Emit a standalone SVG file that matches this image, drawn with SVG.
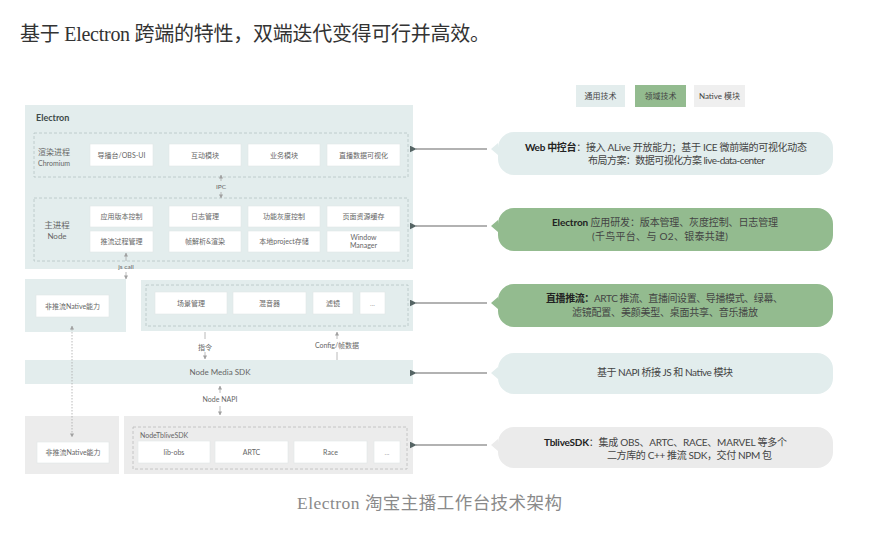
<svg xmlns="http://www.w3.org/2000/svg" width="870" height="554" viewBox="0 0 870 554">
<defs>
<style>
.t{font-family:"Lato","Noto Sans CJK SC",sans-serif;fill:#666}
.s7{font-size:7px}
.s8{font-size:8px}
.m{text-anchor:middle}
.ct{font-family:"Lato","Noto Sans CJK SC",sans-serif;font-size:10px;fill:#444}
.b{font-weight:bold;fill:#222}
.teal{fill:#e3eded}
.grey{fill:#ececec}
.green{fill:#93bb8f}
.dash{fill:none;stroke:#b5c4c4;stroke-width:0.8;stroke-dasharray:3 2}
.box{fill:#fff;stroke:#e2e6e6;stroke-width:0.6}
.conn{stroke:#666;stroke-width:1.2;fill:none}
.small{stroke:#a8a8a8;stroke-width:0.8;fill:none}
</style>
<marker id="ah" viewBox="0 0 10 10" refX="1" refY="5" markerWidth="7" markerHeight="7" orient="auto-start-reverse" markerUnits="userSpaceOnUse">
<path d="M10,0 L0,5 L10,10 Z" fill="#556464"/>
</marker>
<marker id="sa" viewBox="0 0 10 10" refX="9" refY="5" markerWidth="4" markerHeight="4" orient="auto-start-reverse" markerUnits="userSpaceOnUse">
<path d="M0,0 L10,5 L0,10 Z" fill="#a0a0a0"/>
</marker>
</defs>
<rect width="870" height="554" fill="#fff"/>
<text x="20" y="41" textLength="470" lengthAdjust="spacing" style="font-family:'Liberation Serif','Noto Sans CJK SC',serif;font-size:20px;fill:#333">基于 Electron 跨端的特性，双端迭代变得可行并高效。</text>
<text x="297" y="509" textLength="265" lengthAdjust="spacing" style="font-family:'Liberation Serif','Noto Sans CJK SC',serif;font-size:17.5px;fill:#8a8a8a">Electron 淘宝主播工作台技术架构</text>

<g id="legend">
<rect x="576" y="85" width="49" height="22" class="teal"/>
<text x="600.5" y="99" class="t s8 m" style="fill:#444">通用技术</text>
<rect x="635" y="85" width="51" height="22" class="green"/>
<text x="660.5" y="99" class="t s8 m" style="fill:#444">领域技术</text>
<rect x="694" y="85" width="51" height="22" fill="#efefef"/>
<text x="719.5" y="99" class="t s8 m" style="fill:#444">Native 模块</text>
</g>

<g id="electron">
<rect x="25" y="105" width="388" height="164" class="teal"/>
<text x="36" y="121" class="t" style="font-size:9px;font-weight:bold;fill:#3d4a4a">Electron</text>
</g>

<g id="renderer">
<rect x="34" y="133" width="374" height="44" class="dash"/>
<text x="38" y="155" class="t s8">渲染进程</text>
<text x="38" y="166" class="t s7">Chromium</text>
<rect x="90" y="144" width="63" height="22" class="box"/><text x="121.5" y="157.5" class="t s7 m">导播台/OBS-UI</text>
<rect x="169" y="144" width="72" height="22" class="box"/><text x="205" y="157.5" class="t s7 m">互动模块</text>
<rect x="248" y="144" width="72" height="22" class="box"/><text x="284" y="157.5" class="t s7 m">业务模块</text>
<rect x="327" y="144" width="73" height="22" class="box"/><text x="363.5" y="157.5" class="t s7 m">直播数据可视化</text>
</g>

<g id="main-process">
<rect x="34" y="198" width="374" height="63" class="dash"/>
<text x="57" y="228" class="t m" style="font-size:8.5px">主进程</text>
<text x="57" y="239" class="t s8 m">Node</text>
<rect x="90" y="206" width="63" height="21" class="box"/><text x="121.5" y="219" class="t s7 m">应用版本控制</text>
<rect x="169" y="206" width="72" height="21" class="box"/><text x="205" y="219" class="t s7 m">日志管理</text>
<rect x="248" y="206" width="72" height="21" class="box"/><text x="284" y="219" class="t s7 m">功能灰度控制</text>
<rect x="327" y="206" width="73" height="21" class="box"/><text x="363.5" y="219" class="t s7 m">页面资源缓存</text>
<rect x="90" y="231" width="63" height="21" class="box"/><text x="121.5" y="244" class="t s7 m">推流过程管理</text>
<rect x="169" y="231" width="72" height="21" class="box"/><text x="205" y="244" class="t s7 m">帧解析&amp;渲染</text>
<rect x="248" y="231" width="72" height="21" class="box"/><text x="284" y="244" class="t s7 m">本地project存储</text>
<rect x="327" y="231" width="73" height="21" class="box"/><text x="363.5" y="240" class="t s7 m">Window</text><text x="363.5" y="248" class="t s7 m">Manager</text>
</g>

<g id="native-top">
<rect x="25" y="279" width="101" height="53" class="teal"/>
<rect x="36" y="295" width="73" height="22" class="box"/><text x="72.5" y="308.5" class="t s7 m">非推流Native能力</text>
</g>

<g id="streaming">
<rect x="141" y="280" width="272" height="51" class="teal"/>
<rect x="146" y="285" width="262" height="41" class="dash"/>
<rect x="155" y="292" width="72" height="22" class="box"/><text x="191" y="305.5" class="t s7 m">场景管理</text>
<rect x="233" y="292" width="73" height="22" class="box"/><text x="269.5" y="305.5" class="t s7 m">混音器</text>
<rect x="313" y="292" width="40" height="22" class="box"/><text x="333" y="305.5" class="t s7 m">滤镜</text>
<rect x="360" y="292" width="25" height="22" class="box"/><text x="372.5" y="305.5" class="t s7 m" style="fill:#aaa">...</text>
</g>

<g id="node-media-sdk">
<rect x="25" y="360" width="388" height="24" class="teal"/>
<text x="220" y="375" class="t s8 m">Node Media SDK</text>
</g>

<g id="native-bottom">
<rect x="25" y="416" width="94" height="58" class="grey"/>
<rect x="37" y="442" width="72" height="21" class="box"/><text x="73" y="455" class="t s7 m">非推流Native能力</text>
</g>

<g id="tblive-sdk">
<rect x="124" y="416" width="289" height="58" class="grey"/>
<rect x="133" y="427" width="274" height="42" class="dash" style="stroke:#bcbcbc"/>
<text x="140" y="438" class="t s7">NodeTbliveSDK</text>
<rect x="138" y="441" width="72" height="22" class="box"/><text x="174" y="454.5" class="t s7 m">lib-obs</text>
<rect x="215" y="441" width="73" height="22" class="box"/><text x="251.5" y="454.5" class="t s7 m">ARTC</text>
<rect x="294" y="441" width="73" height="22" class="box"/><text x="330.5" y="454.5" class="t s7 m">Race</text>
<rect x="374" y="441" width="26" height="22" class="box"/><text x="387" y="454.5" class="t s7 m" style="fill:#aaa">...</text>
</g>

<g id="callout-web">
<path d="M514,132 H817 A16,16 0 0 1 833,148 V159 A16,16 0 0 1 817,175 H514 A16,16 0 0 1 498,159 V155 L491,149 L498,143 V148 A16,16 0 0 1 514,132 Z" fill="#e2eded"/>
<text x="525" y="151" class="ct" textLength="282" lengthAdjust="spacing"><tspan class="b">Web 中控台</tspan>：接入 ALive 开放能力；基于 ICE 微前端的可视化动态</text>
<text x="588" y="164" class="ct" textLength="177" lengthAdjust="spacing">布局方案：数据可视化方案 live-data-center</text>
</g>

<g id="callout-electron">
<path d="M514,208 H817 A16,16 0 0 1 833,224 V235 A16,16 0 0 1 817,251 H514 A16,16 0 0 1 498,235 V232 L491,226 L498,220 V224 A16,16 0 0 1 514,208 Z" class="green"/>
<text x="552" y="226" class="ct" textLength="226" lengthAdjust="spacing"><tspan class="b">Electron</tspan> 应用研发：版本管理、灰度控制、日志管理</text>
<text x="592" y="240" class="ct" textLength="136" lengthAdjust="spacing">(千鸟平台、与 O2、银泰共建)</text>
</g>

<g id="callout-streaming">
<path d="M514,284 H817 A16,16 0 0 1 833,300 V311 A16,16 0 0 1 817,327 H514 A16,16 0 0 1 498,311 V309 L491,303 L498,297 V300 A16,16 0 0 1 514,284 Z" class="green"/>
<text x="546" y="302" class="ct" textLength="237" lengthAdjust="spacing"><tspan class="b">直播推流：</tspan>ARTC 推流、直播间设置、导播模式、绿幕、</text>
<text x="572" y="316" class="ct" textLength="186" lengthAdjust="spacing">滤镜配置、美颜美型、桌面共享、音乐播放</text>
</g>

<g id="callout-napi">
<path d="M514,353 H817 A16,16 0 0 1 833,369 V378 A16,16 0 0 1 817,394 H514 A16,16 0 0 1 498,378 V379 L491,373 L498,367 V369 A16,16 0 0 1 514,353 Z" fill="#e2eded"/>
<text x="597" y="376" class="ct" textLength="136" lengthAdjust="spacing">基于 NAPI 桥接 JS 和 Native 模块</text>
</g>

<g id="callout-tblive">
<path d="M514,427 H817 A16,16 0 0 1 833,443 V452 A16,16 0 0 1 817,468 H514 A16,16 0 0 1 498,452 V451 L491,445 L498,439 V443 A16,16 0 0 1 514,427 Z" fill="#ebebeb"/>
<text x="544" y="446" class="ct" textLength="243" lengthAdjust="spacing"><tspan class="b">TbliveSDK</tspan>：集成 OBS、ARTC、RACE、MARVEL 等多个</text>
<text x="607" y="459" class="ct" textLength="165" lengthAdjust="spacing">二方库的 C++ 推流 SDK，交付 NPM 包</text>
</g>

<g id="connectors">
<line x1="487" y1="149" x2="416" y2="149" class="conn" marker-end="url(#ah)"/>
<line x1="487" y1="226" x2="416" y2="226" class="conn" marker-end="url(#ah)"/>
<line x1="487" y1="303" x2="416" y2="303" class="conn" marker-end="url(#ah)"/>
<line x1="487" y1="373" x2="416" y2="373" class="conn" marker-end="url(#ah)"/>
<line x1="487" y1="445" x2="416" y2="445" class="conn" marker-end="url(#ah)"/>
<line x1="221" y1="181" x2="221" y2="175" class="small" marker-end="url(#sa)"/>
<text x="221" y="189" class="t m" style="font-size:6.5px">IPC</text>
<line x1="221" y1="192" x2="221" y2="198" class="small" marker-end="url(#sa)"/>
<line x1="126" y1="261" x2="126" y2="253" class="small" marker-end="url(#sa)"/>
<text x="126" y="269" class="t m" style="font-size:6.5px">js call</text>
<line x1="126" y1="272" x2="126" y2="279" class="small" marker-end="url(#sa)"/>
<line x1="205" y1="332" x2="205" y2="339" class="small"/>
<text x="205" y="350" class="t m" style="font-size:7px">指令</text>
<line x1="205" y1="352" x2="205" y2="359" class="small" marker-end="url(#sa)"/>
<line x1="337" y1="339" x2="337" y2="332" class="small" marker-end="url(#sa)"/>
<text x="337" y="348" class="t m" style="font-size:7px">Config/帧数据</text>
<line x1="337" y1="352" x2="337" y2="360" class="small"/>
<line x1="220" y1="393" x2="220" y2="386" class="small" marker-end="url(#sa)"/>
<text x="220" y="402" class="t m" style="font-size:7px">Node NAPI</text>
<line x1="220" y1="406" x2="220" y2="415" class="small" marker-end="url(#sa)"/>
<line x1="72" y1="326" x2="72" y2="437" class="small" style="stroke-dasharray:1.5 1.5" marker-start="url(#sa)" marker-end="url(#sa)"/>
</g>
</svg>
